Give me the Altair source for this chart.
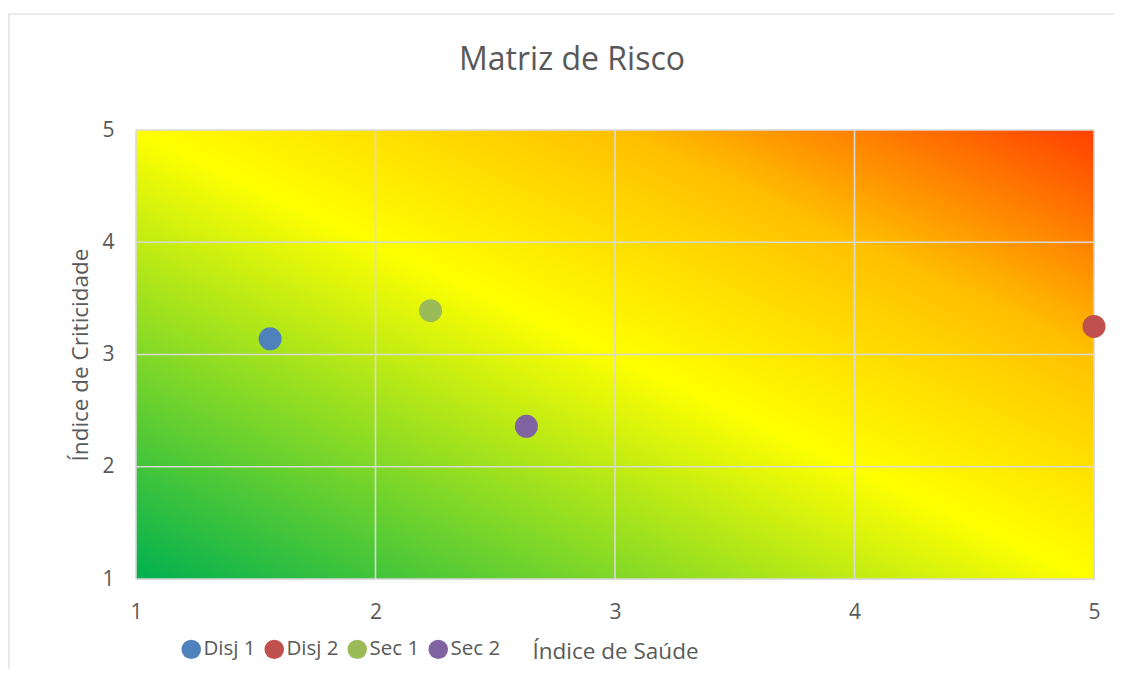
import altair as alt
import pandas as pd

# ---- data ----
series = ["Disj 1", "Disj 2", "Sec 1", "Sec 2"]
saude = [1.56, 5.0, 2.23, 2.63]          # Índice de Saúde (x)
criticidade = [3.14, 3.25, 3.39, 2.36]   # Índice de Criticidade (y)
colors = ["#4F81BD", "#C0504D", "#9BBB59", "#8064A2"]
ticks = [1, 2, 3, 4, 5]
x_domain = [1, 5]
y_domain = [1, 5]
title_text = ["Matriz de Risco"]

FONT = "Open Sans"
TXT = "#595959"
GRID = "#D9D9D9"

pts = pd.DataFrame({"serie": series, "x": saude, "y": criticidade})
bg = pd.DataFrame({"x": [x_domain[0]], "x2": [x_domain[1]], "y": [y_domain[0]], "y2": [y_domain[1]]})
grid = pd.DataFrame({"v": ticks})
ttl = pd.DataFrame({"t": title_text})

xs = alt.Scale(domain=x_domain, nice=False, zero=False)
ys = alt.Scale(domain=y_domain, nice=False, zero=False)

gradient = alt.Gradient(
    gradient="linear",
    x1=0, y1=1, x2=1, y2=0,
    stops=[
        alt.GradientStop(color="#00B050", offset=0),
        alt.GradientStop(color="#FFFF00", offset=0.5),
        alt.GradientStop(color="#FFC000", offset=0.75),
        alt.GradientStop(color="#FF4000", offset=1),
    ],
)

frame = alt.Chart(bg).mark_rect(fill="white", fillOpacity=0, stroke=GRID, strokeWidth=1.2).encode(
    x=alt.value(-127), x2=alt.value(1100), y=alt.value(-116), y2=alt.value(700)
)

title = alt.Chart(ttl).mark_text(font=FONT, fontSize=32, color=TXT, align="center",
                                 baseline="alphabetic").encode(
    text="t:N", x=alt.value(436), y=alt.value(-60)
)

back = alt.Chart(bg).mark_rect(fill=gradient).encode(
    x=alt.X("x:Q", scale=xs,
            axis=alt.Axis(values=ticks, format="d", title="Índice de Saúde", grid=False, ticks=False,
                          domain=False, labelFlush=False,
                          labelPadding=22, labelFontSize=21, labelColor=TXT, labelFont=FONT,
                          titleFont=FONT, titleFontSize=22.5, titleFontWeight="normal", titleColor=TXT,
                          titleX=479, titleY=79, titleAlign="center", titleBaseline="alphabetic")),
    x2="x2:Q",
    y=alt.Y("y:Q", scale=ys,
            axis=alt.Axis(values=ticks, format="d", title="Índice de Criticidade", grid=False,
                          ticks=False, domain=False, labelFlush=False,
                          labelPadding=22, labelFontSize=21, labelColor=TXT, labelFont=FONT,
                          titleFont=FONT, titleFontSize=22.5, titleFontWeight="normal", titleColor=TXT,
                          titleX=-49, titleY=224.5, titleAlign="center", titleAngle=-90,
                          titleBaseline="alphabetic")),
    y2="y2:Q",
)

vgrid = alt.Chart(grid).mark_rule(color=GRID, strokeWidth=1.6).encode(
    x=alt.X("v:Q", scale=xs), y=alt.value(0), y2=alt.value(449)
)
hgrid = alt.Chart(grid).mark_rule(color=GRID, strokeWidth=1.6).encode(
    y=alt.Y("v:Q", scale=ys), x=alt.value(0), x2=alt.value(958)
)

points = alt.Chart(pts).mark_circle(size=530, opacity=1).encode(
    x=alt.X("x:Q", scale=xs),
    y=alt.Y("y:Q", scale=ys),
    color=alt.Color("serie:N", scale=alt.Scale(domain=series, range=colors),
                    legend=alt.Legend(title=None, orient="none", direction="horizontal",
                                      legendX=45, legendY=509, padding=0,
                                      symbolType="circle", symbolSize=380, symbolStrokeWidth=0,
                                      symbolOpacity=1, labelOffset=2, columnPadding=8,
                                      labelFont=FONT, labelFontSize=20.5, labelColor=TXT)),
)

chart = alt.layer(frame, title, back, vgrid, hgrid, points).properties(
    width=958, height=449,
    autosize=alt.AutoSizeParams(type="none"),
    padding={"left": 128, "top": 122, "right": 20, "bottom": 90},
).configure_view(stroke=None).configure(background="white")

chart.save("out.html", embed_options={"renderer": "svg", "actions": False})
